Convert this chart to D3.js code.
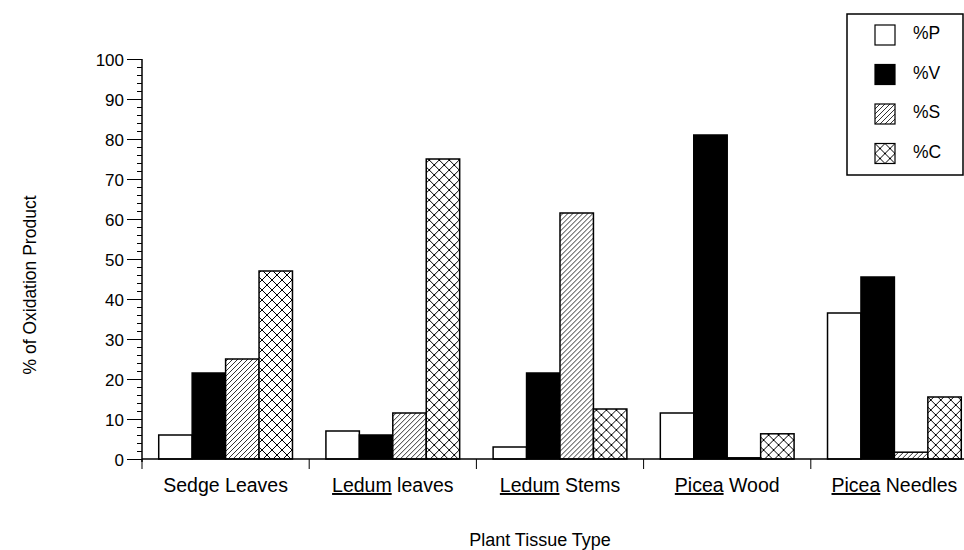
<!DOCTYPE html>
<html>
<head>
<meta charset="utf-8">
<script src="https://cdn.jsdelivr.net/npm/d3@7"></script>
<style>
  body { margin: 0; background: #fff; }
  text { font-family: "Liberation Sans", Arial, sans-serif; fill: #000; }
</style>
</head>
<body>
<div id="chart"></div>
<script>
// Données
const categories = ["Sedge Leaves", "Ledum leaves", "Ledum Stems", "Picea Wood", "Picea Needles"];
// parties soulignées de chaque étiquette (genre en italique dans l'original)
const underlined = ["", "Ledum", "Ledum", "Picea", "Picea"];
const seriesNames = ["%P", "%V", "%S", "%C"];
const valuesP = [6, 7, 3, 11.5, 36.5];
const valuesV = [21.5, 6, 21.5, 81, 45.5];
const valuesS = [25, 11.5, 61.5, 0.3, 1.7];
const valuesC = [47, 75, 12.5, 6.3, 15.5];
const yTicks = [0, 10, 20, 30, 40, 50, 60, 70, 80, 90, 100];

const seriesValues = [valuesP, valuesV, valuesS, valuesC];
const fills = ["#fff", "#000", "url(#hatch)", "url(#cross)"];

const width = 964, height = 550;
const svg = d3.select("#chart").append("svg")
    .attr("width", width)
    .attr("height", height);

// Motifs : hachures et quadrillage
const defs = svg.append("defs");
const hatch = defs.append("pattern")
    .attr("id", "hatch")
    .attr("patternUnits", "userSpaceOnUse")
    .attr("width", 5).attr("height", 5);
hatch.append("rect").attr("width", 5).attr("height", 5).attr("fill", "#fff");
hatch.append("path")
    .attr("d", "M-1,1 l2,-2 M0,5 l5,-5 M4,6 l2,-2")
    .attr("stroke", "#000").attr("stroke-width", 0.8);

const cross = defs.append("pattern")
    .attr("id", "cross")
    .attr("patternUnits", "userSpaceOnUse")
    .attr("width", 10).attr("height", 10);
cross.append("rect").attr("width", 10).attr("height", 10).attr("fill", "#fff");
cross.append("path")
    .attr("d", "M0,0 L10,10 M10,0 L0,10")
    .attr("stroke", "#000").attr("stroke-width", 1);

// Échelles
const x = d3.scaleBand()
    .domain(categories)
    .range([142, 978])
    .paddingInner(0)
    .paddingOuter(0);

const xs = d3.scaleBand()
    .domain(seriesNames)
    .range([0, x.bandwidth()])
    .paddingInner(0)
    .paddingOuter(0.5);

const y = d3.scaleLinear()
    .domain([0, 100])
    .range([459, 59]);

// Barres
const groups = svg.append("g").selectAll("g")
    .data(categories)
    .enter()
    .append("g")
    .attr("transform", d => `translate(${x(d)},0)`);

groups.selectAll("rect")
    .data((c, i) => seriesNames.map((s, j) => ({ s: s, j: j, v: seriesValues[j][i] })))
    .enter()
    .append("rect")
    .attr("x", d => xs(d.s))
    .attr("width", xs.bandwidth())
    .attr("y", d => y(d.v))
    .attr("height", d => y(0) - y(d.v))
    .attr("fill", d => fills[d.j])
    .attr("stroke", "#000")
    .attr("stroke-width", 1.5);

// Axe Y : graduations principales et secondaires
const yAxis = svg.append("g")
    .attr("transform", "translate(142,0)")
    .call(d3.axisLeft(y).tickValues(yTicks).tickSize(15).tickPadding(3));
yAxis.selectAll("text").style("font-size", "17px").attr("dy", "0.36em");
yAxis.select(".domain").attr("stroke-width", 1.5).attr("d", `M0,${y(100)}V${y(0) + 3}`);

svg.append("g")
    .attr("transform", "translate(142,0)")
    .call(d3.axisLeft(y).tickValues(d3.range(0, 101, 2)).tickSize(5).tickFormat(""))
    .call(g => g.select(".domain").remove());

// Axe X
const xAxis = svg.append("g")
    .attr("transform", `translate(0,${y(0)})`);
xAxis.append("line")
    .attr("x1", 142).attr("x2", 978)
    .attr("stroke", "#000").attr("stroke-width", 1.5);
xAxis.selectAll(".sep")
    .data(categories.map(c => x(c)).concat([x.range()[1]]))
    .enter()
    .append("line")
    .attr("x1", d => d).attr("x2", d => d)
    .attr("y1", 0).attr("y2", 10)
    .attr("stroke", "#000").attr("stroke-width", 1);

const labels = xAxis.selectAll(".lab")
    .data(categories)
    .enter()
    .append("text")
    .attr("x", d => x(d) + x.bandwidth() / 2)
    .attr("y", 33)
    .attr("text-anchor", "middle")
    .style("font-size", "19.5px");
labels.each(function (d, i) {
    const t = d3.select(this);
    if (underlined[i]) {
        t.append("tspan").style("text-decoration", "underline").text(underlined[i]);
        t.append("tspan").text(d.slice(underlined[i].length));
    } else {
        t.text(d);
    }
});

// Titres des axes
svg.append("text")
    .attr("x", 540)
    .attr("y", 546)
    .attr("text-anchor", "middle")
    .style("font-size", "18px")
    .text("Plant Tissue Type");

svg.append("text")
    .attr("transform", "translate(36,285) rotate(-90)")
    .attr("text-anchor", "middle")
    .style("font-size", "17.5px")
    .text("% of Oxidation Product");

// Légende
const legend = svg.append("g");
legend.append("rect")
    .attr("x", 847).attr("y", 14)
    .attr("width", 116).attr("height", 161)
    .attr("fill", "#fff")
    .attr("stroke", "#000").attr("stroke-width", 1.5);

const items = legend.selectAll(".item")
    .data(seriesNames)
    .enter()
    .append("g")
    .attr("transform", (d, i) => `translate(875,${25 + i * 39.5})`);
items.append("rect")
    .attr("width", 20).attr("height", 20)
    .attr("fill", (d, i) => fills[i])
    .attr("stroke", "#000").attr("stroke-width", 1.2);
items.append("text")
    .attr("x", 38)
    .attr("y", 14)
    .style("font-size", "17.5px")
    .text(d => d);
</script>
</body>
</html>
